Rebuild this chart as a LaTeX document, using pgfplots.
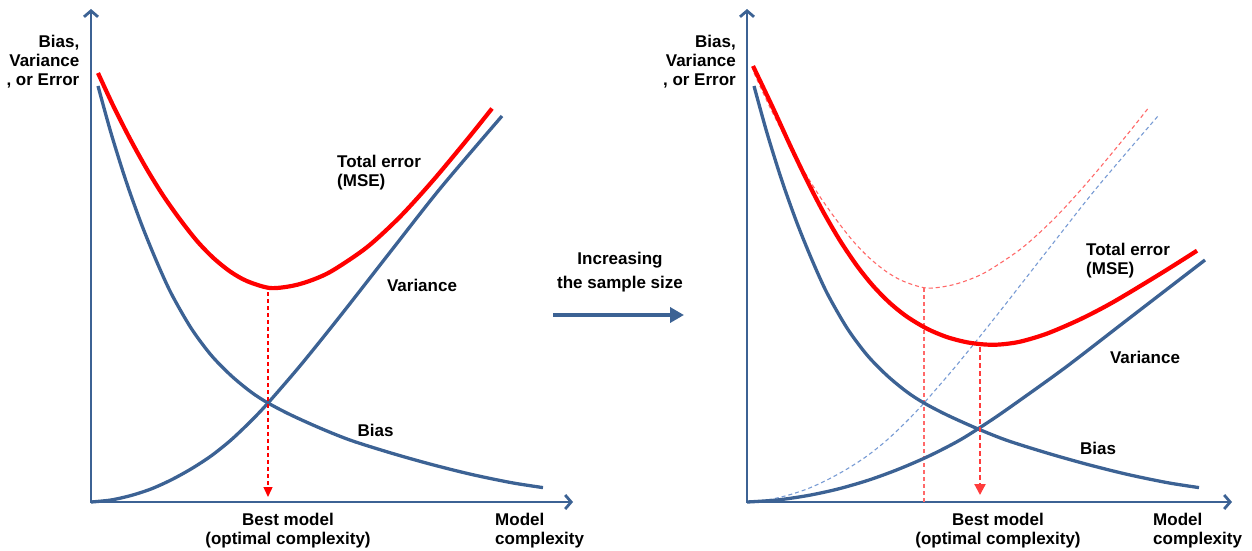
\documentclass[border=0pt]{standalone}
\usepackage{fontspec}
\setmainfont{Liberation Sans}
\usepackage{pgfplots}
\pgfplotsset{compat=1.18}
\usetikzlibrary{arrows.meta}
\definecolor{cblue}{RGB}{60,98,148}
\definecolor{lblue}{RGB}{120,155,212}
\definecolor{lred}{RGB}{255,105,105}
\definecolor{ared}{RGB}{255,60,60}
\newcommand{\lbl}{\fontsize{17bp}{19bp}\selectfont\bfseries}
\begin{document}
\begin{tikzpicture}
\begin{axis}[width=1252bp, height=551bp, scale only axis,
  xmin=0, xmax=1252, ymin=0, ymax=551, y dir=reverse,
  hide axis, clip=false]
\addplot[draw=none] coordinates {(0,0) (1252,551)};
% ---------- axes (left) ----------
\addplot[cblue, line width=2.8bp, -{Straight Barb[length=6bp,width=14bp]}] coordinates {(91,503) (91,9)};
\addplot[cblue, line width=2.8bp, -{Straight Barb[length=6bp,width=14bp]}] coordinates {(90,502) (573,502)};
% ---------- axes (right) ----------
\addplot[cblue, line width=2.8bp, -{Straight Barb[length=6bp,width=14bp]}] coordinates {(747,503) (747,9)};
\addplot[cblue, line width=2.8bp, -{Straight Barb[length=6bp,width=14bp]}] coordinates {(746,502) (1232,502)};
% ---------- left panel ----------
% Bias
\addplot[cblue, line width=3.3bp, smooth] coordinates {
(98,86) (111,133) (126,181) (141,223) (156,260) (171,293) (191,328) (211,355)
(231,375.5) (251,392) (268,403) (291,415) (321,428.5) (351,440.4) (391,453)
(431,464.3) (471,474.3) (511,482.6) (543,487.6)};
% Variance
\addplot[cblue, line width=3.3bp, smooth] coordinates {
(91,502) (111,500) (131,495.5) (151,489) (171,480) (191,469) (211,456) (231,440)
(251,421) (268,403) (301,364.7) (341,315) (391,251) (441,187.5) (502,116)};
% Total error
\addplot[red, line width=4.2bp, smooth] coordinates {
(98,73) (113,105.3) (130,138.8) (147,169.4) (163,195.3) (180,219.4) (197,241)
(213,257.6) (230,271.4) (247,281.1) (270,288) (293,285.7) (313,279.7) (333,270.3)
(367,247.2) (400,216.8) (433,180.5) (467,139.7) (492,108.5)};
\addplot[red, line width=1.4bp, dash pattern=on 4bp off 3bp, -{Triangle[length=10bp,width=9bp]}] coordinates {(268,292) (268,497)};
% ---------- right panel: previous curves (dashed) ----------
\addplot[lblue, line width=1.1bp, dash pattern=on 4bp off 3bp, smooth] coordinates {
(747,502) (767,500) (787,495.5) (807,489) (827,480) (847,469) (867,456) (887,440)
(907,421) (924,403) (957,364.7) (997,315) (1047,251) (1097,187.5) (1158,116)};
\addplot[lred, line width=1.1bp, dash pattern=on 4bp off 3bp, smooth] coordinates {
(754,73) (769,105.3) (786,138.8) (803,169.4) (819,195.3) (836,219.4) (853,241)
(869,257.6) (886,271.4) (903,281.1) (926,288) (949,285.7) (969,279.7) (989,270.3)
(1023,247.2) (1056,216.8) (1089,180.5) (1123,139.7) (1148,108.5)};
\addplot[lred, line width=1.1bp, dash pattern=on 4bp off 3bp] coordinates {(924,288) (924,502)};
% ---------- right panel: new curves ----------
% Bias
\addplot[cblue, line width=3.3bp, smooth] coordinates {
(754,86) (767,133) (782,181) (797,223) (812,260) (827,293) (847,328) (867,355)
(887,375.5) (907,392) (924,403) (947,415) (977,428.5) (1007,440.4) (1047,453)
(1087,464.3) (1127,474.3) (1167,482.6) (1199,487.6)};
% Variance
\addplot[cblue, line width=3.3bp, smooth] coordinates {
(747,502) (777,500) (808,495.5) (838,489) (869,480) (899,469) (929,456) (960,440)
(990,421) (1016,403) (1066,367) (1127,320) (1205,260)};
% Total error
\addplot[red, line width=4.2bp, smooth] coordinates {
(753,66) (773,108) (790,145.1) (807,180.5) (823,211.4) (840,240.6) (857,265.8)
(873,285.8) (890,303.1) (907,316.7) (927,328.7) (947,337.1) (967,342.3) (985,344.5)
(1000,344.5) (1020,341.7) (1047,333.6) (1080,319.4) (1113,302.2) (1160,274) (1197,250.7)};
\addplot[ared, line width=2.2bp, dash pattern=on 5bp off 3bp, -{Triangle[length=11bp,width=11bp]}] coordinates {(980,347) (980,495)};
% ---------- middle arrow ----------
\addplot[cblue, line width=4.5bp, -{Triangle[length=14bp,width=15bp]}] coordinates {(553,315) (684,315)};
% ---------- labels ----------
\node[font=\lbl, align=right, anchor=north east, inner sep=0pt] at (axis cs:79.5,35) {Bias,\\Variance\\, or Error};
\node[font=\lbl, align=right, anchor=north east, inner sep=0pt] at (axis cs:736,35) {Bias,\\Variance\\, or Error};
\node[font=\lbl, align=left, anchor=north west, inner sep=0pt] at (axis cs:337,155) {Total error\\(MSE)};
\node[font=\lbl, align=left, anchor=north west, inner sep=0pt] at (axis cs:1086,243) {Total error\\(MSE)};
\node[font=\lbl, anchor=center, inner sep=0pt] at (axis cs:422,285.5) {Variance};
\node[font=\lbl, anchor=center, inner sep=0pt] at (axis cs:1145,357.5) {Variance};
\node[font=\lbl, anchor=center, inner sep=0pt] at (axis cs:375.5,430) {Bias};
\node[font=\lbl, anchor=center, inner sep=0pt] at (axis cs:1098,448.3) {Bias};
\node[font=\lbl, align=center, anchor=north, inner sep=0pt] at (axis cs:288,513) {Best model\\(optimal complexity)};
\node[font=\lbl, align=center, anchor=north, inner sep=0pt] at (axis cs:998,513) {Best model\\(optimal complexity)};
\node[font=\lbl, align=left, anchor=north west, inner sep=0pt] at (axis cs:495,513) {Model\\complexity};
\node[font=\lbl, align=left, anchor=north west, inner sep=0pt] at (axis cs:1153,513) {Model\\complexity};
\node[font=\fontsize{17bp}{24bp}\selectfont\bfseries, align=center, anchor=north, inner sep=0pt] at (axis cs:620,252) {Increasing\\the sample size};
\end{axis}
\end{tikzpicture}
\end{document}
